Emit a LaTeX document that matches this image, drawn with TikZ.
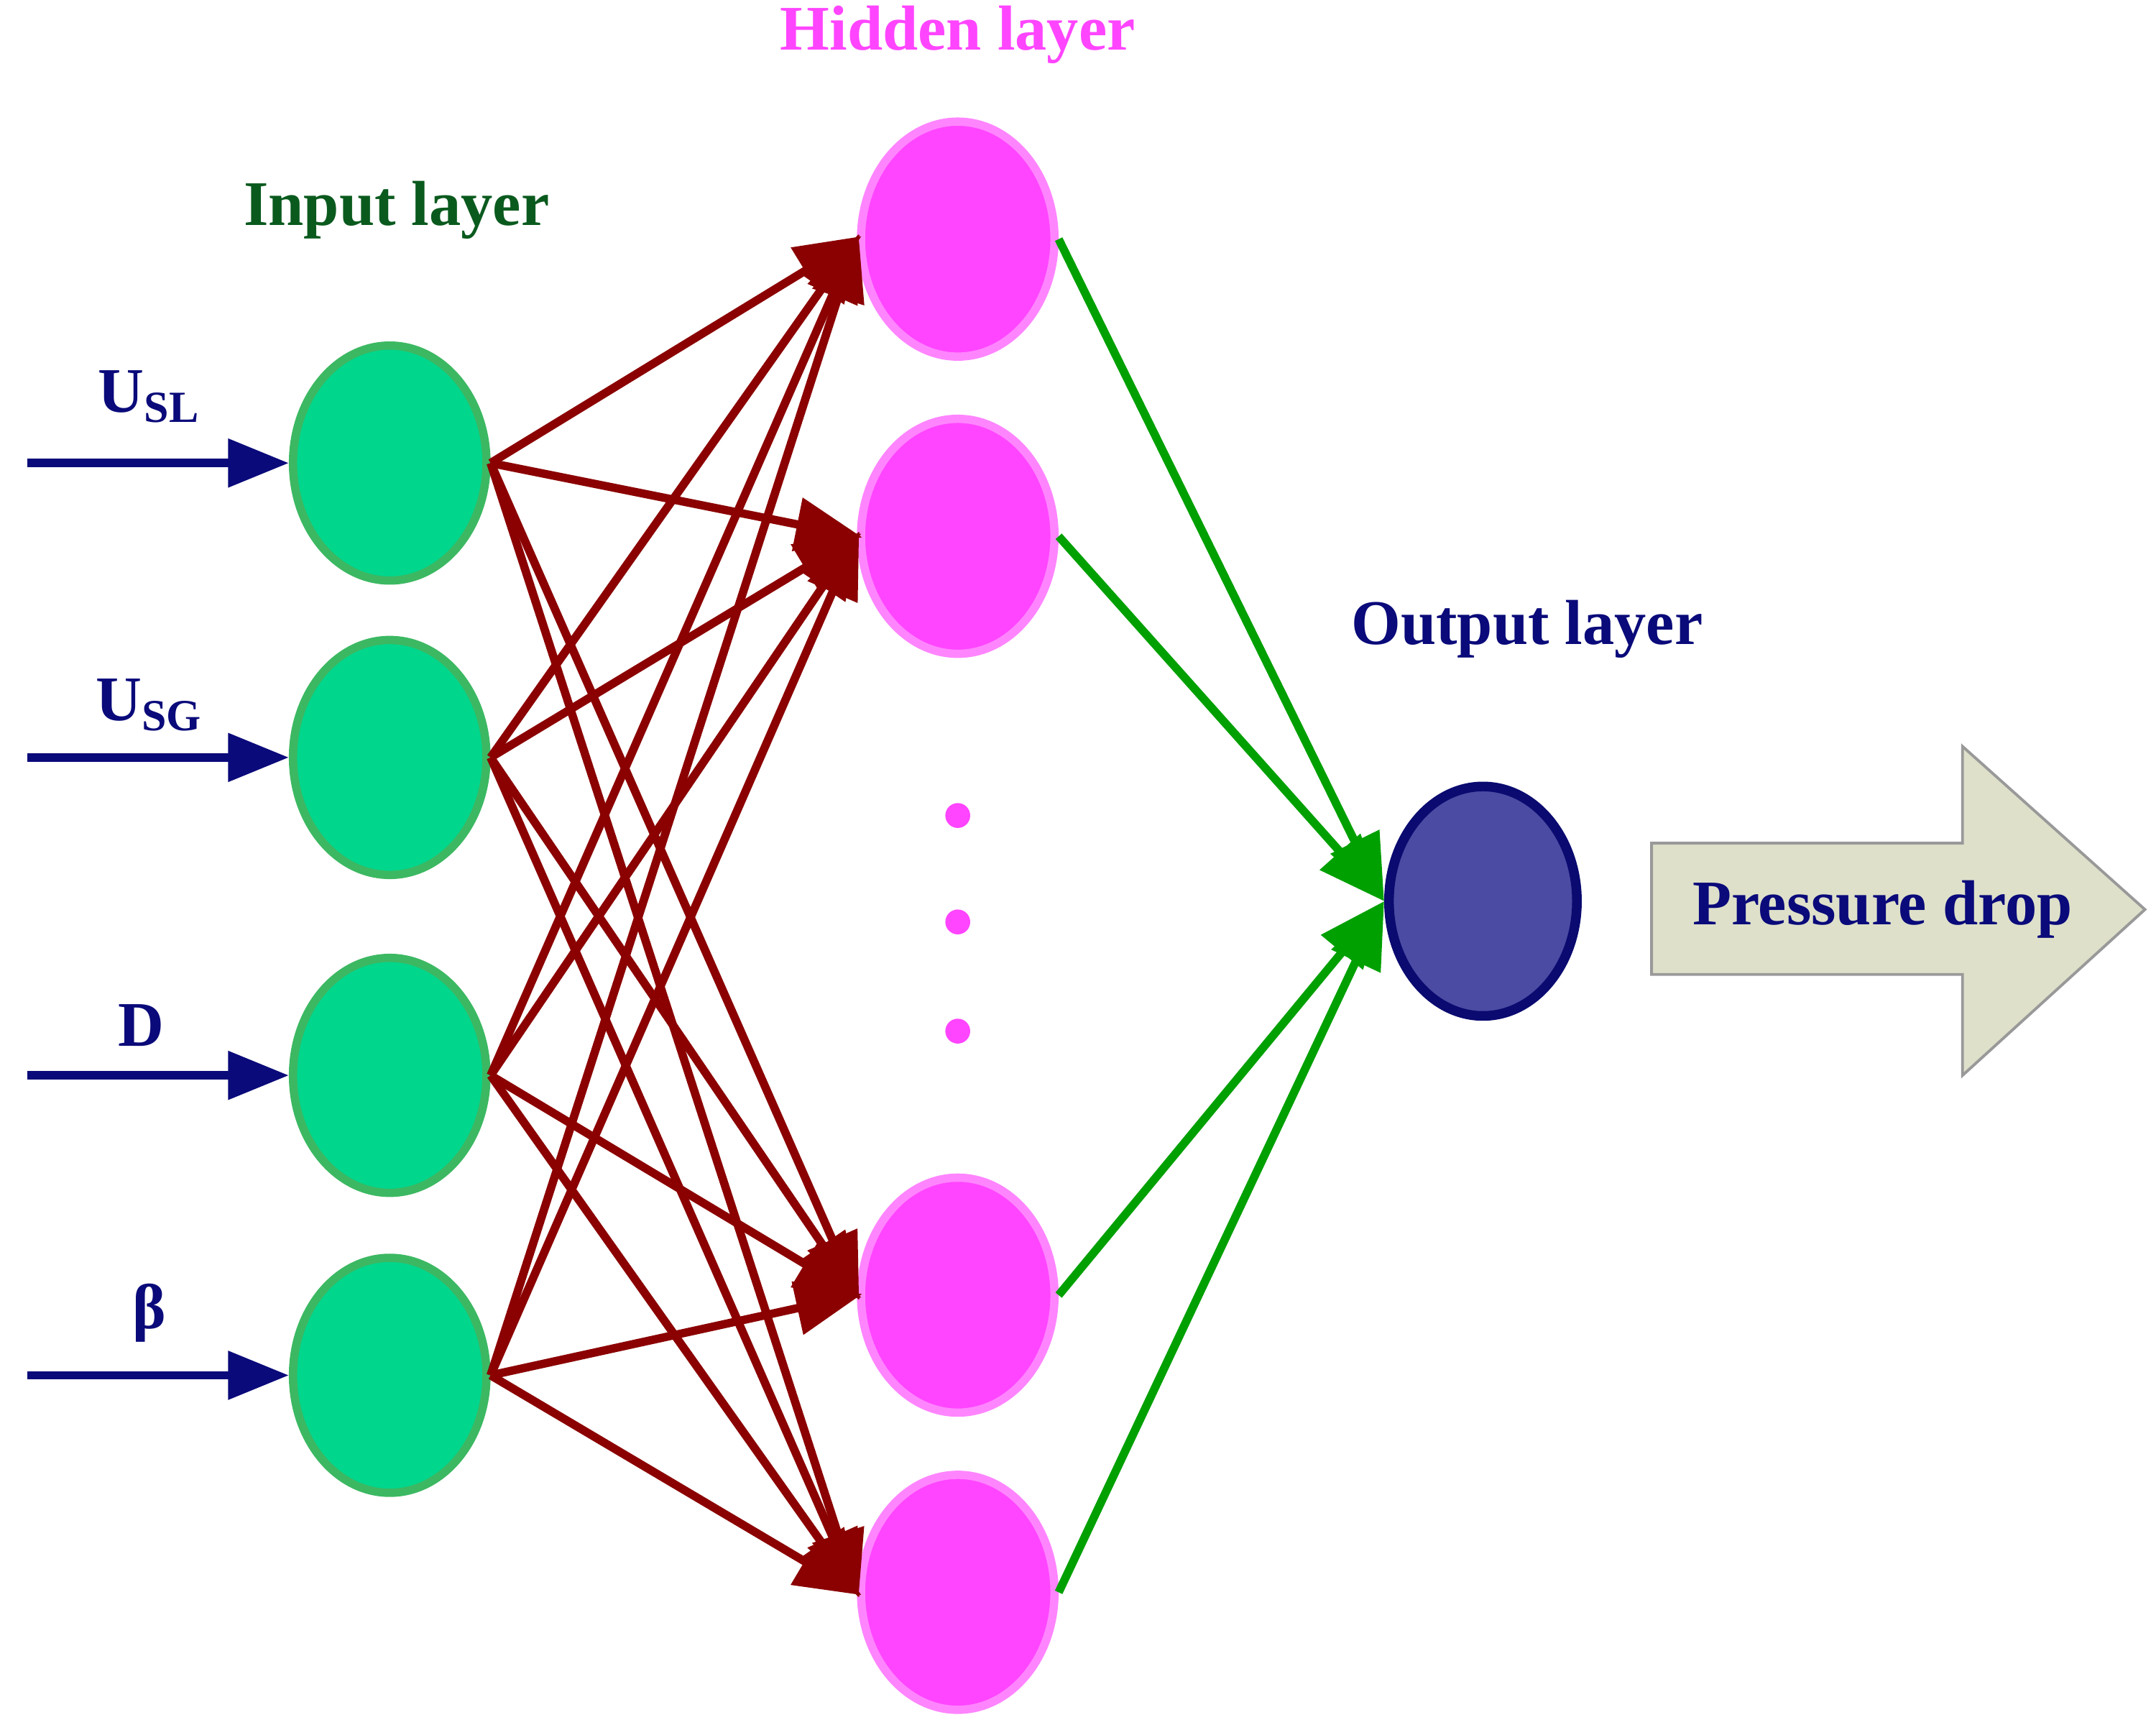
\documentclass[tikz,border=0pt]{standalone}
\usepackage{fontspec}
\setmainfont{Liberation Serif}
\usetikzlibrary{arrows.meta,shapes.geometric,shapes.arrows}
\definecolor{ingreen}{HTML}{00D68C}
\definecolor{inborder}{HTML}{3CB862}
\definecolor{hidfill}{HTML}{FF45FF}
\definecolor{hidborder}{HTML}{FF85FF}
\definecolor{outfill}{HTML}{4B4BA3}
\definecolor{outborder}{HTML}{0A0A70}
\definecolor{navy}{HTML}{0A0A7A}
\definecolor{dred}{HTML}{8B0000}
\definecolor{gr}{HTML}{00A000}
\definecolor{darkgr}{HTML}{0A5A1E}
\definecolor{bigarrow}{HTML}{DEE0CA}
\tikzset{
 inp/.style={ellipse,minimum width=70pt,minimum height=85pt,fill=ingreen,draw=inborder,line width=3pt},
 hid/.style={ellipse,minimum width=70pt,minimum height=85pt,fill=hidfill,draw=hidborder,line width=3pt},
 outn/.style={ellipse,minimum width=68pt,minimum height=83pt,fill=outfill,draw=outborder,line width=3.5pt},
 red/.style={draw=dred,line width=3pt,-{Triangle[length=24pt,width=19pt]},shorten >=-2pt},
 grn/.style={draw=gr,line width=3pt,-{Triangle[length=24pt,width=19pt]}},
 inar/.style={draw=navy,line width=3pt,-{Triangle[length=22pt,width=17pt]}},
 lbl/.style={font=\bfseries\fontsize{23}{26}\selectfont}
}
\begin{document}
\begin{tikzpicture}[x=0.5pt,y=-0.5pt]
\useasboundingbox (0,0) rectangle (1560,1248);
\foreach \n/\y in {1/335,2/548,3/778,4/995} \node[inp] (i\n) at (282,\y) {};
\foreach \n/\y in {1/173,2/388,3/937,4/1152} \node[hid] (h\n) at (693,\y) {};
\node[outn] (o) at (1073,652) {};
\foreach \y in {590,667,746} \fill[hidfill] (693,\y) circle (4.5pt);
\foreach \n/\y in {1/335,2/548,3/778,4/995} {
  \coordinate (s\n) at (20,\y);
  \draw[inar] (s\n) -- (i\n.west);
}
\foreach \a in {1,...,4} \foreach \b in {1,...,4} \draw[red] (i\a.east) -- (h\b.west);
\foreach \b in {1,...,4} \draw[grn] (h\b.east) -- (o.west);
\node[lbl,text=navy] (l1) at (108,287) {U\textsubscript{SL}};
\node[lbl,text=navy] (l2) at (108,510) {U\textsubscript{SG}};
\node[lbl,text=navy] (l3) at (102,742) {D};
\node[lbl,text=navy] (l4) at (108,950) {β};
\node[lbl,text=darkgr] (t1) at (287,152) {Input layer};
\node[lbl,text=hidfill] (t2) at (693,25) {Hidden layer};
\node[lbl,text=navy] (t3) at (1105,455) {Output layer};
\draw[fill=bigarrow,draw=gray!80,line width=1pt] (1195,610) -- (1420,610) -- (1420,540) -- (1552,658) -- (1420,778) -- (1420,705) -- (1195,705) -- cycle;
\node[lbl,text=navy] (pd) at (1362,658) {Pressure drop};
\end{tikzpicture}
\end{document}
